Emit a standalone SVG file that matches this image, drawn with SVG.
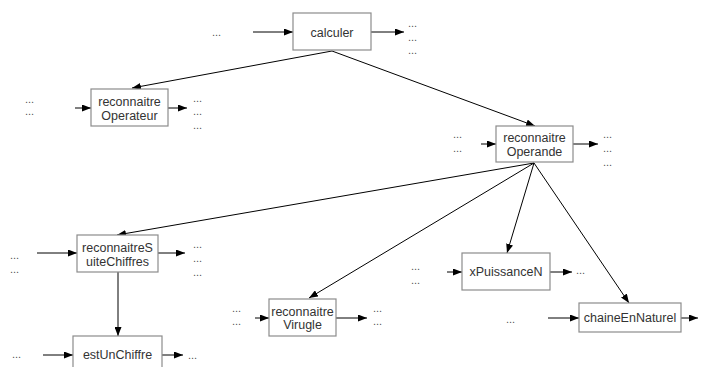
<svg xmlns="http://www.w3.org/2000/svg" width="704" height="367" viewBox="0 0 704 367">
<style>
.box{fill:#fff;stroke:#8c8c8c;stroke-width:1.2}
.lbl{font-family:"Liberation Sans",Arial,sans-serif;font-size:12.5px;fill:#333;text-anchor:middle}
.dots{font-family:"Liberation Sans",Arial,sans-serif;font-size:11px;fill:#555}
.e{stroke:#000;stroke-width:1;fill:none;marker-end:url(#ah)}
</style>
<defs>
<marker id="ah" markerUnits="userSpaceOnUse" markerWidth="9" markerHeight="7" refX="9" refY="3.5" orient="auto">
<path d="M0,0 L9,3.5 L0,7 z" fill="#000"/>
</marker>
</defs>
<rect width="704" height="367" fill="#fff"/>
<g id="connectors">
<path class="e" d="M332,51 L132,88"/>
<path class="e" d="M332,51 L535,126"/>
<path class="e" d="M534,163 L117,235"/>
<path class="e" d="M534,163 L309,298"/>
<path class="e" d="M534,163 L507,253"/>
<path class="e" d="M534,163 L629,303"/>
<path class="e" d="M118,272 L118,336"/>
<path class="e" d="M253,32 L293,32"/>
<path class="e" d="M371,32 L404,32"/>
<path class="e" d="M75,108 L91,108"/>
<path class="e" d="M168,108 L187,108"/>
<path class="e" d="M481,144 L496,144"/>
<path class="e" d="M573,144 L598,144"/>
<path class="e" d="M37,253 L77,253"/>
<path class="e" d="M158,253 L185,253"/>
<path class="e" d="M43,355 L73,355"/>
<path class="e" d="M162,355 L183,355"/>
<path class="e" d="M255,318 L269,318"/>
<path class="e" d="M336,318 L367,318"/>
<path class="e" d="M447,272 L462,272"/>
<path class="e" d="M550,272 L572,272"/>
<path class="e" d="M548,318 L579,318"/>
<path class="e" d="M681,318 L698,318"/>
</g>
<g id="calculer">
<rect class="box" x="293" y="13" width="78" height="37"/>
<text class="lbl" x="332" y="37">calculer</text>
<text class="dots" x="212" y="36">...</text>
<text class="dots" x="408" y="27">...</text>
<text class="dots" x="408" y="41">...</text>
<text class="dots" x="408" y="54">...</text>
</g>
<g id="reconnaitreOperateur">
<rect class="box" x="91" y="89" width="77" height="37"/>
<text class="lbl" x="129.5" y="106">reconnaitre</text>
<text class="lbl" x="129.5" y="119.5">Operateur</text>
<text class="dots" x="25" y="103">...</text>
<text class="dots" x="25" y="115">...</text>
<text class="dots" x="193" y="102">...</text>
<text class="dots" x="193" y="115">...</text>
<text class="dots" x="193" y="129">...</text>
</g>
<g id="reconnaitreOperande">
<rect class="box" x="496" y="126" width="77" height="36"/>
<text class="lbl" x="534.5" y="142">reconnaitre</text>
<text class="lbl" x="534.5" y="156">Operande</text>
<text class="dots" x="453" y="138">...</text>
<text class="dots" x="453" y="152">...</text>
<text class="dots" x="603" y="138">...</text>
<text class="dots" x="603" y="152">...</text>
<text class="dots" x="603" y="166">...</text>
</g>
<g id="reconnaitreSuiteChiffres">
<rect class="box" x="77" y="235" width="81" height="37"/>
<text class="lbl" x="117.5" y="252">reconnaitreS</text>
<text class="lbl" x="117.5" y="266">uiteChiffres</text>
<text class="dots" x="10" y="259">...</text>
<text class="dots" x="10" y="273">...</text>
<text class="dots" x="193" y="248">...</text>
<text class="dots" x="193" y="262">...</text>
<text class="dots" x="193" y="276">...</text>
</g>
<g id="estUnChiffre">
<rect class="box" x="73" y="336" width="89" height="37"/>
<text class="lbl" x="117.5" y="359">estUnChiffre</text>
<text class="dots" x="12" y="358">...</text>
<text class="dots" x="188" y="359">...</text>
</g>
<g id="reconnaitreVirugle">
<rect class="box" x="269" y="299" width="67" height="37"/>
<text class="lbl" x="302.5" y="316">reconnaitre</text>
<text class="lbl" x="302.5" y="329">Virugle</text>
<text class="dots" x="232" y="312">...</text>
<text class="dots" x="232" y="325">...</text>
<text class="dots" x="373" y="312">...</text>
<text class="dots" x="373" y="325">...</text>
</g>
<g id="xPuissanceN">
<rect class="box" x="462" y="253" width="88" height="37"/>
<text class="lbl" x="506" y="276">xPuissanceN</text>
<text class="dots" x="411" y="270">...</text>
<text class="dots" x="411" y="284">...</text>
<text class="dots" x="576" y="274">...</text>
</g>
<g id="chaineEnNaturel">
<rect class="box" x="579" y="303" width="102" height="29"/>
<text class="lbl" x="630" y="322">chaineEnNaturel</text>
<text class="dots" x="506" y="323">...</text>
</g>
</svg>
